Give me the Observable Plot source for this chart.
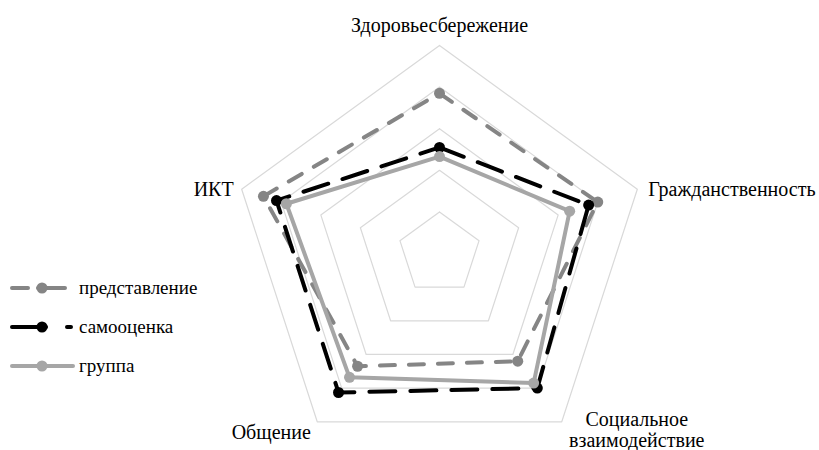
<!DOCTYPE html>
<html>
<head>
<meta charset="utf-8">
<script src="https://cdn.jsdelivr.net/npm/d3@7"></script>
<script src="https://cdn.jsdelivr.net/npm/@observablehq/plot@0.6"></script>
<style>
  html, body { margin: 0; padding: 0; background: #fff; }
  #wrap { position: relative; width: 819px; height: 450px; font-family: "Liberation Serif", "Times New Roman", serif; }
  #legend { position: absolute; left: 0; top: 270px; }
</style>
</head>
<body>
<div id="wrap"><div id="chart"></div><div id="legend"></div></div>
<script>
// ---- data ----
const categories = ["Здоровьесбережение", "Гражданственность", "Социальное\nвзаимодействие", "Общение", "ИКТ"];
const seriesNames = ["представление", "самооценка", "группа"];
const predstavlenie = [3.85, 4.0, 3.2, 3.35, 4.45];
const samoocenka = [2.55, 3.77, 4.0, 4.13, 4.12];
const gruppa = [2.33, 3.29, 3.85, 3.68, 3.87];
const gridLevels = [1, 2, 3, 4, 5];
const maxValue = 5;

// ---- styles ----
const seriesStyle = {
  "представление": {stroke: "#858585", dash: "15,14"},
  "самооценка": {stroke: "#000000", dash: "26,15"},
  "группа": {stroke: "#a6a6a6", dash: null}
};
const labelStyle = [
  {dx: 0, dy: -20, anchor: "middle"},
  {dx: 11, dy: 0, anchor: "start"},
  {dx: 75, dy: 8, anchor: "middle"},
  {dx: -46, dy: 11, anchor: "middle"},
  {dx: -8, dy: 0, anchor: "end"}
];

const n = categories.length;
const ang = i => (i % n) * 2 * Math.PI / n;
const pt = (i, r) => ({x: r * Math.sin(ang(i)), y: r * Math.cos(ang(i))});

const gridRows = gridLevels.flatMap(l => d3.range(n + 1).map(i => ({level: l, ...pt(i, l)})));
const seriesValues = [predstavlenie, samoocenka, gruppa];
const seriesRows = seriesNames.map((s, k) => d3.range(n + 1).map(i => ({series: s, ...pt(i, seriesValues[k][i % n])})));
const labelRows = categories.map((c, i) => ({label: c, ...pt(i, maxValue), ...labelStyle[i]}));

// pixel frame: center (439,253), unit 41.6 px
const U = 41.6, CX = 439, CY = 253, W = 819, H = 450;

const marks = [
  Plot.line(gridRows, {x: "x", y: "y", z: "level", stroke: "#d9d9d9", strokeWidth: 1.2})
];
seriesRows.forEach(rows => {
  const st = seriesStyle[rows[0].series];
  marks.push(Plot.line(rows, {x: "x", y: "y", stroke: st.stroke, strokeWidth: 4,
    strokeDasharray: st.dash, strokeLinecap: "round", strokeLinejoin: "round"}));
  marks.push(Plot.dot(rows.slice(0, n), {x: "x", y: "y", r: 5.5, fill: st.stroke, stroke: "none"}));
});
labelRows.forEach(d => {
  marks.push(Plot.text([d], {x: "x", y: "y", text: "label", textAnchor: d.anchor,
    dx: d.dx, dy: d.dy, fontSize: 20, lineHeight: 1.02, fill: "#000"}));
});

const chart = Plot.plot({
  width: W, height: H,
  margin: 0,
  x: {domain: [-CX / U, (W - CX) / U], range: [0, W], axis: null},
  y: {domain: [-(H - CY) / U, CY / U], range: [H, 0], axis: null},
  style: {fontFamily: "'Liberation Serif', 'Times New Roman', serif", background: "#fff", overflow: "visible"},
  marks
});
document.getElementById("chart").append(chart);

// ---- legend ----
const legendRowsStyle = [
  {name: seriesNames[0], dash: "16,10,27,100", x2: 65},
  {name: seriesNames[1], dash: "34,21", x2: 71},
  {name: seriesNames[2], dash: null, x2: 73}
];
const lg = d3.select("#legend").append("svg").attr("width", 220).attr("height", 120)
  .style("font-family", "'Liberation Serif', 'Times New Roman', serif");
legendRowsStyle.forEach((r, k) => {
  const y = 18 + k * 39;
  const col = seriesStyle[r.name].stroke;
  lg.append("line").attr("x1", 12).attr("x2", r.x2).attr("y1", y).attr("y2", y)
    .attr("stroke", col).attr("stroke-width", 4).attr("stroke-linecap", "round")
    .attr("stroke-dasharray", r.dash);
  lg.append("circle").attr("cx", 42).attr("cy", y).attr("r", 5.5).attr("fill", col);
  lg.append("text").attr("x", 79).attr("y", y).attr("dy", "0.32em").attr("font-size", 19).text(r.name);
});
</script>
</body>
</html>
